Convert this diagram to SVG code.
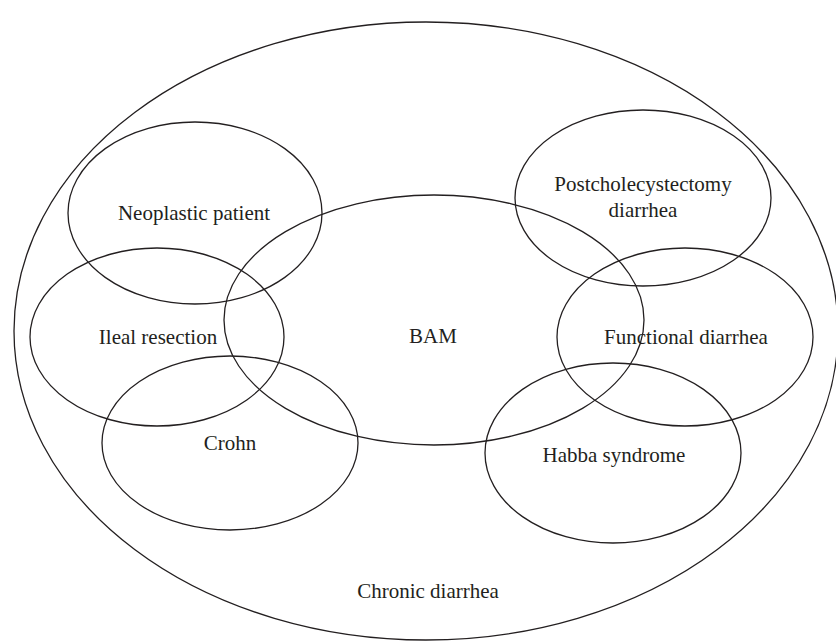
<svg xmlns="http://www.w3.org/2000/svg" width="836" height="643" viewBox="0 0 836 643">
<style>
.e{fill:none;stroke:#231f20;stroke-width:1.3}
.t{font-family:"Liberation Serif","Times New Roman",serif;font-size:21px;fill:#231f20;text-anchor:middle}
</style>
<rect width="836" height="643" fill="#fff"/>
<g id="chronic">
<ellipse class="e" cx="426" cy="331" rx="412" ry="309"/>
<text class="t" x="428" y="598">Chronic diarrhea</text>
</g>
<g id="bam">
<ellipse class="e" cx="434" cy="320" rx="210" ry="125"/>
<text class="t" x="433" y="343">BAM</text>
</g>
<g id="neoplastic">
<ellipse class="e" cx="195" cy="213" rx="127" ry="91"/>
<text class="t" x="194" y="220">Neoplastic patient</text>
</g>
<g id="ileal">
<ellipse class="e" cx="157" cy="337" rx="127" ry="89"/>
<text class="t" x="158" y="344">Ileal resection</text>
</g>
<g id="crohn">
<ellipse class="e" cx="230" cy="443" rx="128" ry="87"/>
<text class="t" x="230" y="450">Crohn</text>
</g>
<g id="postchole">
<ellipse class="e" cx="643" cy="198" rx="128" ry="88"/>
<text class="t" x="643" y="191">Postcholecystectomy</text>
<text class="t" x="643" y="217">diarrhea</text>
</g>
<g id="functional">
<ellipse class="e" cx="685" cy="337" rx="128" ry="89"/>
<text class="t" x="686" y="344">Functional diarrhea</text>
</g>
<g id="habba">
<ellipse class="e" cx="613" cy="453" rx="128" ry="90"/>
<text class="t" x="614" y="462">Habba syndrome</text>
</g>
<g id="connectors"></g>
</svg>
